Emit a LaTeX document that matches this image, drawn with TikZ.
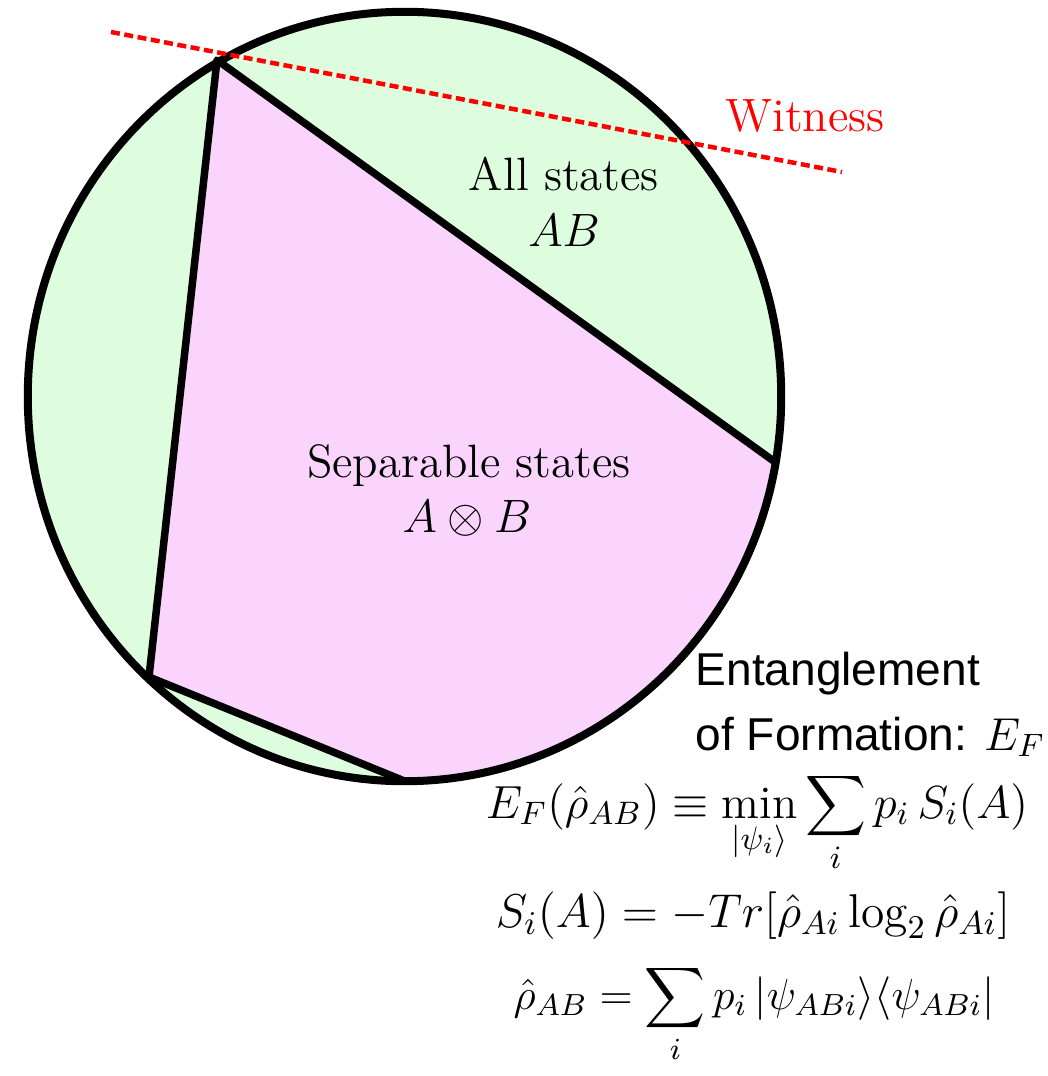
\RequirePackage{fix-cm}
\documentclass[tikz,border=0pt]{standalone}
\usepackage{amsmath}
\usepackage{fontspec}
\newfontfamily\labelsans{Liberation Sans}
\usepackage{tikz}
\usetikzlibrary{positioning}
\definecolor{allgreen}{RGB}{222,252,222}
\definecolor{seppink}{RGB}{250,212,252}
\tikzset{
  region/.style={line width=0.08cm, draw=black},
  edge/.style={line width=0.075cm, line cap=round, line join=round},
  witness/.style={red, line width=0.045cm, dash pattern=on 0.09cm off 0.045cm},
  serifnote/.style={font=\fontsize{13.3}{16}\selectfont, anchor=base, inner sep=0pt},
  sansnote/.style={font=\labelsans\fontsize{13.1}{16}\selectfont, anchor=base west, inner sep=0pt},
  eqnote/.style={font=\fontsize{13.2}{16}\selectfont, anchor=base, inner sep=0pt}
}

\begin{document}
\begin{tikzpicture}[x=0.01cm, y=-0.01cm]
  \useasboundingbox (0,0) rectangle (1047,1076);

  % Corners of the separable set
  \coordinate (O) at (404.5,396.5);
  \coordinate (T) at (217,60);
  \coordinate (R) at (775,462);
  \coordinate (B) at (402,780);
  \coordinate (L) at (149,677);

  % All states
  \fill[allgreen] (O) ellipse [x radius=3.765cm, y radius=3.845cm];
  % Separable states
  \begin{scope}
    \clip (O) ellipse [x radius=3.765cm, y radius=3.845cm];
    \fill[seppink] (T) -- (R) -- (1000,1000) -- (B) -- (L) -- cycle;
  \end{scope}
  \draw[edge] (R) -- (T) -- (L) -- (B);
  \draw[region] (O) ellipse [x radius=3.765cm, y radius=3.845cm];

  % Witness
  \coordinate (W1) at (111,32);
  \coordinate (W2) at (842,172);
  \draw[witness] (W1) -- (W2);
  \node[serifnote, text=red] (wit) at (805,132) {Witness};

  % Labels
  \node[serifnote] (all)   at (564,190) {All states};
  \node[serifnote] (allAB) at (564,246) {$AB$};
  \node[serifnote] (sep)   at (469,477) {Separable states};
  \node[serifnote] (sepAB) at (467,532) {$A\otimes B$};

  % Entanglement of formation
  \node[sansnote] (ent)  at (695,685) {Entanglement};
  \node[sansnote] (form) at (695,750) {of Formation: $E_F$};
  \node[eqnote] (eqE)   at (757,818)
    {$\displaystyle E_F(\hat\rho_{AB}) \equiv \min_{|\psi_i\rangle} \sum_i p_i\, S_i(A)$};
  \node[eqnote, font=\fontsize{13.5}{16}\selectfont] (eqS) at (753,927)
    {$S_i(A) = -Tr[\hat\rho_{Ai}\log_2\hat\rho_{Ai}]$};
  \node[eqnote, font=\fontsize{12.4}{16}\selectfont] (eqrho) at (754,1009)
    {$\displaystyle \hat\rho_{AB} = \sum_i p_i\, |\psi_{ABi}\rangle\langle\psi_{ABi}|$};
\end{tikzpicture}
\end{document}
